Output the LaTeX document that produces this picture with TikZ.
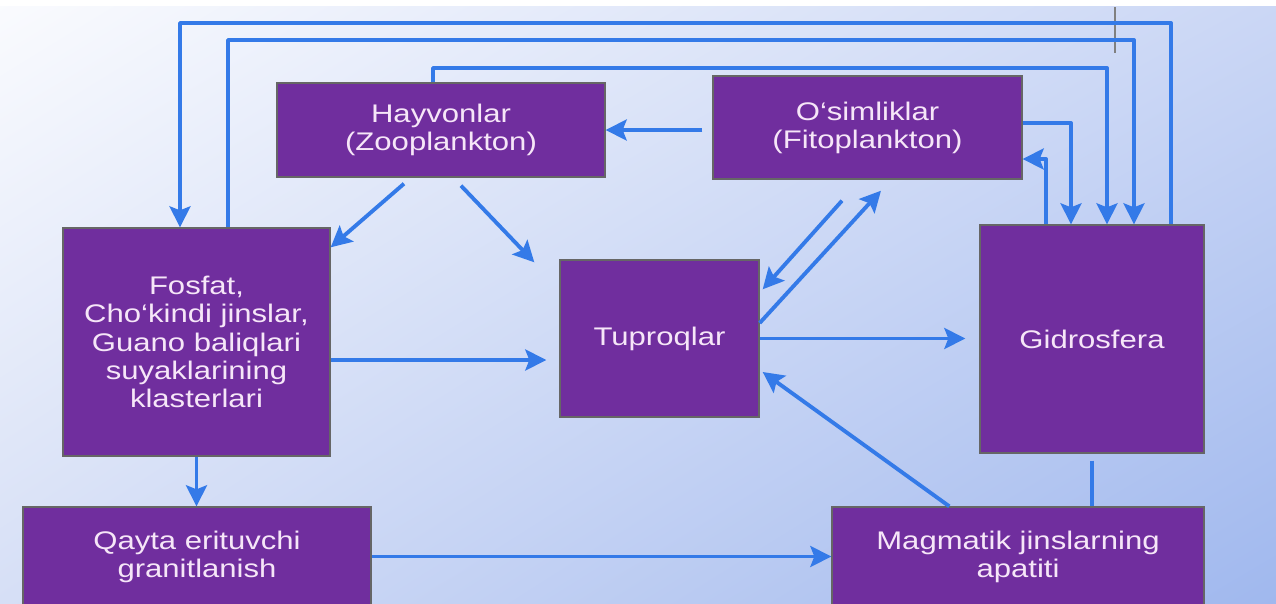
\documentclass[tikz,border=0pt]{standalone}
\usepackage{fontspec}
\setmainfont{Liberation Sans}[FakeStretch=1.22]
\usetikzlibrary{arrows.meta,shadings}

\definecolor{boxpurple}{RGB}{112,46,158}
\definecolor{boxtext}{RGB}{246,230,248}
\definecolor{linkblue}{RGB}{52,122,232}
\definecolor{bgtl}{RGB}{250,251,254}
\definecolor{bgtr}{RGB}{203,215,245}
\definecolor{bgbl}{RGB}{214,223,246}
\definecolor{bgbr}{RGB}{160,184,238}

\tikzset{
  box/.style={draw=black!60, line width=0.8pt, fill=boxpurple, text=boxtext,
    align=center, inner sep=0pt, font=\fontsize{14.5}{16}\selectfont},
  link/.style={draw=linkblue, line width=2.2pt, line join=round},
  arr/.style={link, -{Stealth[length=0.42cm,width=0.42cm,inset=0.08cm]}},
}

\begin{document}
\begin{tikzpicture}[x=0.02cm, y=-0.02cm]
    % page and background
    \clip (0,0) rectangle (1276,603);
    \shade[upper left=bgtl, upper right=bgtr, lower left=bgbl, lower right=bgbr]
      (0,0) rectangle (1276,603);
    \fill[white] (0,0) rectangle (1276,6);
    \draw[gray, line width=1pt] (1115,7) -- (1115,53);

    % boxes
    \node[box, minimum width=6.56cm, minimum height=1.88cm] (hayvon) at (441,130)
      {Hayvonlar\\(Zooplankton)};
    \node[box, minimum width=6.18cm, minimum height=2.06cm] (osimlik) at (867.5,127.5)
      {O‘simliklar\\(Fitoplankton)};
    \node[box, minimum width=5.34cm, minimum height=4.56cm] (fosfat) at (196.5,342)
      {Fosfat,\\Cho‘kindi jinslar,\\Guano baliqlari\\suyaklarining\\klasterlari};
    \node[box, minimum width=3.98cm, minimum height=3.14cm] (tuproq) at (659.5,338.5)
      {Tuproqlar};
    \node[box, minimum width=4.48cm, minimum height=4.56cm] (gidro) at (1092,339)
      {Gidrosfera};
    \node[box, minimum width=6.96cm, minimum height=1.98cm] (qayta) at (197,556.5)
      {Qayta erituvchi\\granitlanish};
    \node[box, minimum width=7.44cm, minimum height=1.98cm] (magma) at (1018,556.5)
      {Magmatik jinslarning\\apatiti};

    % long routes over the top
    \coordinate (t1l) at (180,23);  \coordinate (t1r) at (1171,23);
    \coordinate (t2l) at (228,40);  \coordinate (t2r) at (1134,40);
    \coordinate (t3l) at (433,68);  \coordinate (t3r) at (1107,68);
    \coordinate (o1) at (1071,123); \coordinate (o2) at (1046,159);
    \draw[arr] (gidro.north -| t1r) -- (t1r) -- (t1l) -- (fosfat.north -| t1l);
    \draw[arr] (fosfat.north -| t2l) -- (t2l) -- (t2r) -- (gidro.north -| t2r);
    \draw[arr] (hayvon.north -| t3l) -- (t3l) -- (t3r) -- (gidro.north -| t3r);
    \draw[arr] (osimlik.east |- o1) -| (gidro.north -| o1);
    \draw[arr] (gidro.north -| o2) |- (osimlik.east |- o2);

    % plankton
    \draw[arr, shorten <=0.2cm] (osimlik.west |- hayvon.east) -- (hayvon.east);
    \draw[arr] ([xshift=-0.74cm,yshift=-0.12cm]hayvon.south) -- ([yshift=-0.4cm]fosfat.north east);
    \draw[arr] ([xshift=0.4cm,yshift=-0.16cm]hayvon.south) -- ([xshift=-0.5cm,yshift=-0.06cm]tuproq.north west);
    \draw[arr] ([yshift=0.31cm]tuproq.east) -- ([xshift=0.27cm,yshift=-0.22cm]osimlik.south);
    \draw[arr] ([xshift=-0.51cm,yshift=-0.42cm]osimlik.south) -- ([xshift=0.06cm,yshift=-0.6cm]tuproq.north east);

    % middle row
    \path ([yshift=-0.36cm]fosfat.east) coordinate (f1);
    \draw[arr, shorten >=0.26cm] (f1) -- (tuproq.west |- f1);
    \draw[arr, shorten >=0.28cm] (tuproq.east) -- (gidro.west |- tuproq.east);

    % bottom row
    \draw[arr] (fosfat.south) -- (fosfat.south |- qayta.north);
    \draw[arr] (qayta.east) -- (magma.west |- qayta.east);
    \draw[arr] ([xshift=2.36cm]magma.north west) -- ([xshift=0.06cm,yshift=-0.67cm]tuproq.east);
    \draw[link, shorten <=0.14cm] (gidro.south) -- (magma.north -| gidro.south);
  \end{tikzpicture}
\end{document}
